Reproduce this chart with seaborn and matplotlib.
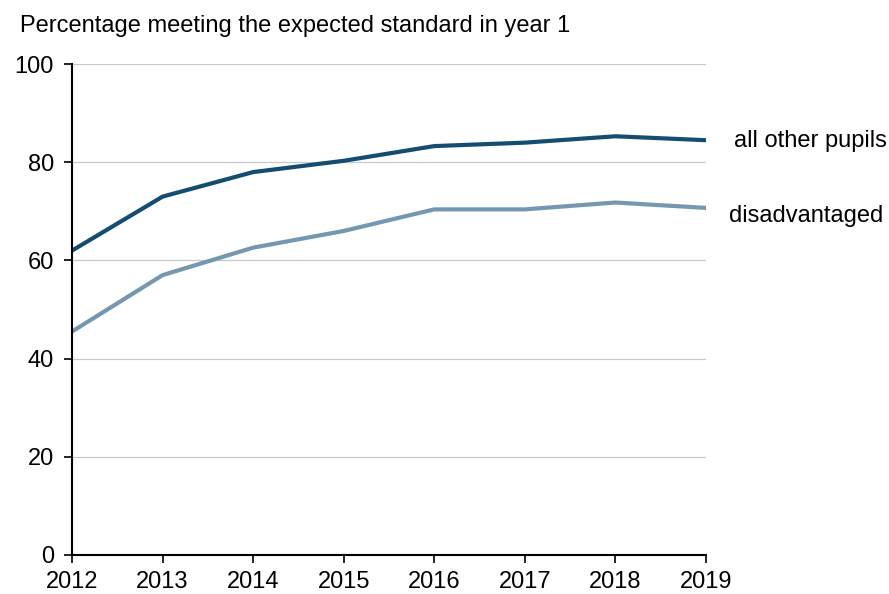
import numpy as np
import pandas as pd
import seaborn as sns
import matplotlib.pyplot as plt

years = [2012, 2013, 2014, 2015, 2016, 2017, 2018, 2019]
all_other = [62.0, 73.0, 78.0, 80.3, 83.3, 84.0, 85.3, 84.5]
disadvantaged = [45.5, 57.0, 62.6, 66.0, 70.4, 70.4, 71.8, 70.7]
groups = ['all other pupils', 'disadvantaged']
colours = ['#154d71', '#7598b0']

df = pd.DataFrame({
    'year': years * 2,
    'pct': all_other + disadvantaged,
    'group': [groups[0]] * len(years) + [groups[1]] * len(years),
})

sns.set_style('white')
plt.rcParams['font.family'] = ['Liberation Sans', 'DejaVu Sans']
plt.rcParams['text.color'] = 'black'
plt.rcParams['xtick.color'] = 'black'
plt.rcParams['ytick.color'] = 'black'

fig = plt.figure(figsize=(8.89, 5.94), dpi=100)
ax = fig.add_axes([0.081, 0.066, 0.713, 0.826])

sns.lineplot(data=df, x='year', y='pct', hue='group', palette=colours,
             linewidth=3, legend=False, ax=ax)

ax.set_xlim(2012, 2019)
ax.set_ylim(0, 100)
ax.set_xticks(years)
ax.set_yticks(np.arange(0, 101, 20))
ax.yaxis.grid(True, color='#c8c8c8', linewidth=0.9)
ax.set_axisbelow(True)
ax.tick_params(axis='both', direction='out', length=6, width=1.2,
               bottom=True, left=True, labelsize=17, pad=7)
ax.tick_params(axis='x', pad=6)
for side in ['top', 'right']:
    ax.spines[side].set_visible(False)
for side in ['left', 'bottom']:
    ax.spines[side].set_color('black')
    ax.spines[side].set_linewidth(1.5)
ax.set_xlabel('')
ax.set_ylabel('')

# labels at the line ends
offsets = [(28, -1), (23, -8)]
for vals, name, off in zip([all_other, disadvantaged], groups, offsets):
    ax.annotate(name, xy=(years[-1], vals[-1]), xytext=off,
                textcoords='offset pixels', va='center', ha='left',
                fontsize=17, annotation_clip=False)

fig.text(0.022, 0.957, 'Percentage meeting the expected standard in year 1',
         fontsize=17, ha='left', va='center')

fig.savefig('out.png', dpi=100)
